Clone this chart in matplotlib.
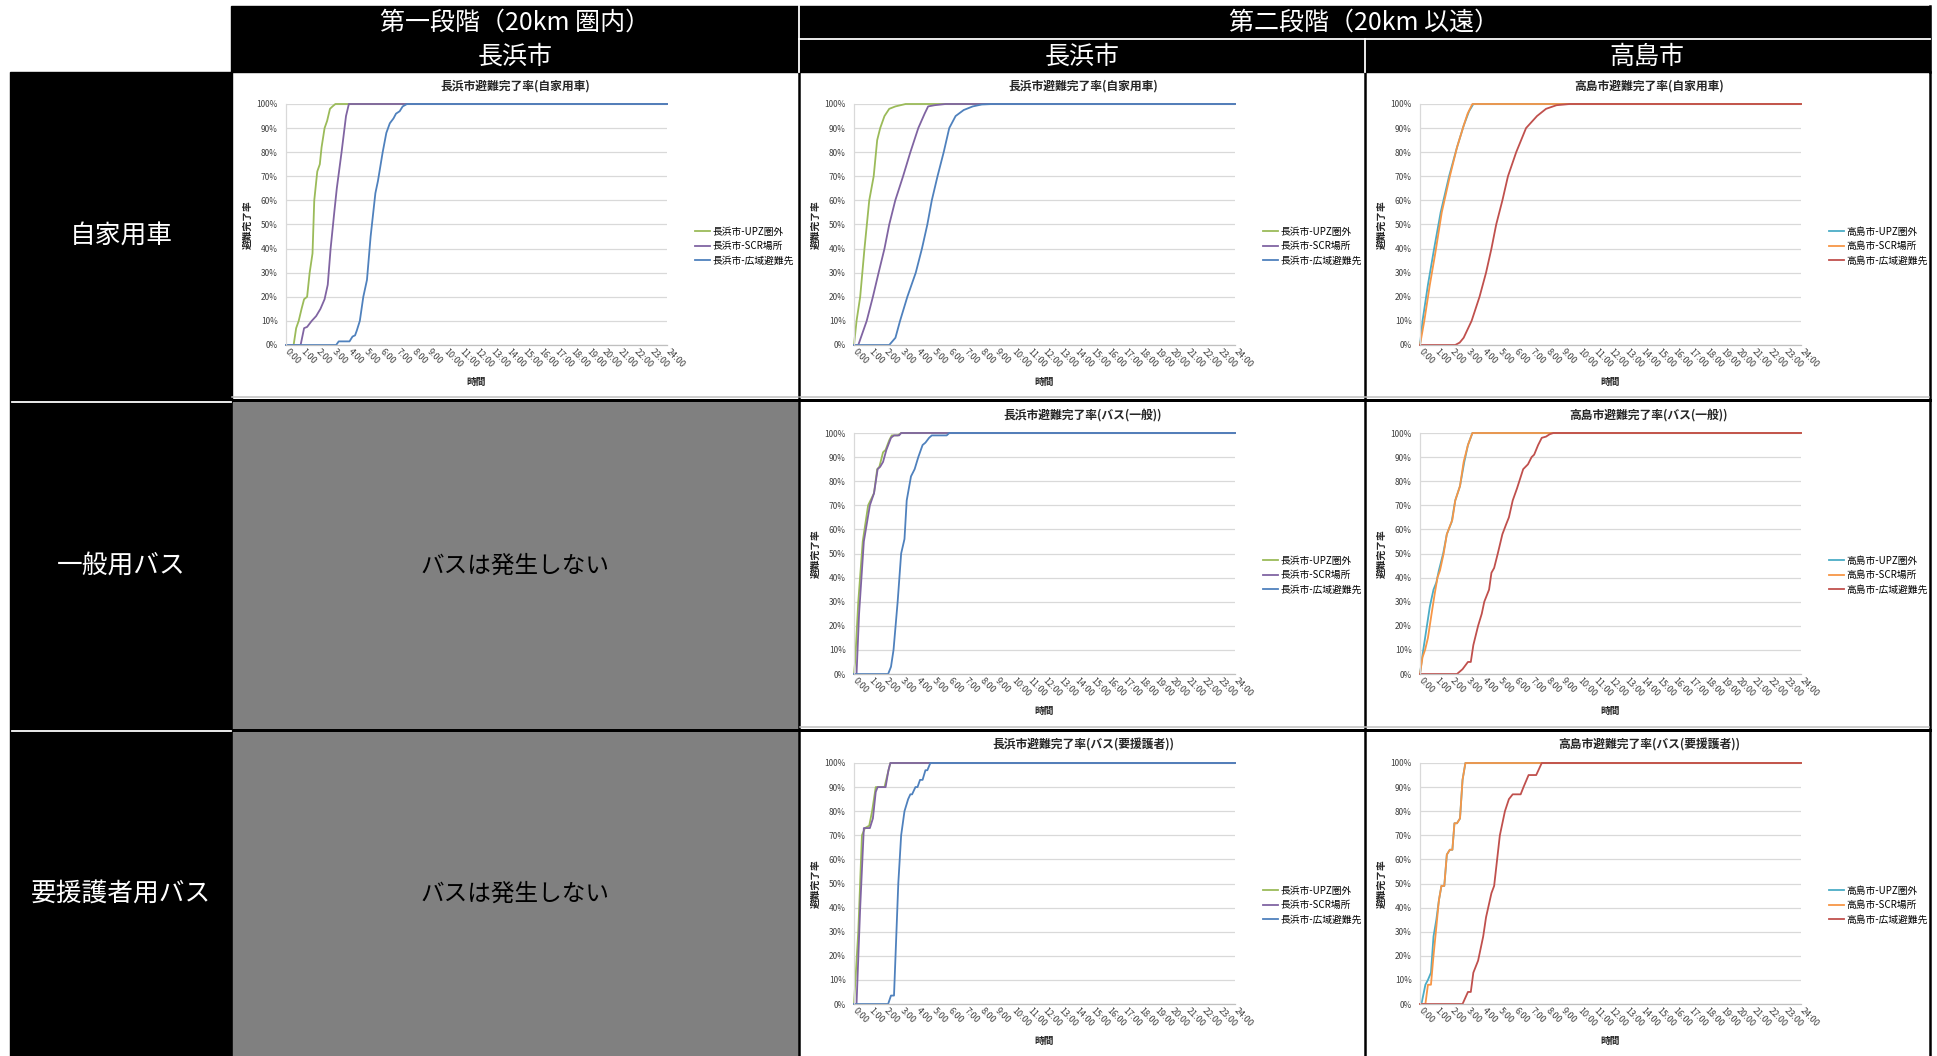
import matplotlib
matplotlib.use('Agg')
import matplotlib.pyplot as plt
from matplotlib.patches import Rectangle

plt.rcParams['font.family'] = ['Noto Sans CJK JP', 'DejaVu Sans']

# evacuation completion (hour, %) per series
# phase 1, Nagahama, private car
p1_car_upz = [(0, 0), (0.48, 0), (0.64, 7), (0.8, 10), (0.98, 15), (1.14, 19), (1.33, 20), (1.49, 30),
              (1.67, 38), (1.78, 60), (1.97, 72), (2.13, 75), (2.24, 82), (2.43, 90), (2.59, 93),
              (2.77, 98), (2.93, 99), (3.11, 100), (24, 100)]
p1_car_scr = [(0, 0), (0.92, 0), (1.14, 7), (1.33, 7.5), (1.62, 10), (1.9, 12), (2.17, 15), (2.43, 19),
              (2.63, 25), (2.81, 40), (3.04, 55), (3.2, 65), (3.5, 80), (3.78, 95), (3.96, 100), (24, 100)]
p1_car_wide = [(0, 0), (3.16, 0), (3.32, 1.5), (4.0, 1.5), (4.19, 3.5), (4.35, 4), (4.46, 6), (4.65, 10),
               (4.87, 20), (5.1, 27), (5.33, 45), (5.63, 63), (5.79, 68), (6.09, 80), (6.32, 88),
               (6.54, 92), (6.77, 94), (6.93, 96), (7.16, 97), (7.35, 99), (7.62, 100), (24, 100)]

# phase 2, Nagahama, private car
p2n_car_upz = [(0, 0), (0.16, 10), (0.39, 20), (0.66, 40), (0.96, 60), (1.24, 70), (1.46, 85), (1.65, 90),
               (1.92, 95), (2.22, 98), (2.61, 99), (3.25, 100), (24, 100)]
p2n_car_scr = [(0, 0), (0.27, 0), (0.8, 10), (1.19, 20), (1.55, 30), (1.92, 40), (2.22, 50), (2.6, 60),
               (3.09, 70), (3.55, 80), (4.05, 90), (4.45, 96), (4.67, 99), (5.08, 99.5), (5.77, 100), (24, 100)]
p2n_car_wide = [(0, 0), (2.22, 0), (2.61, 3), (2.9, 10), (3.36, 20), (3.89, 30), (4.28, 40), (4.62, 50),
                (4.9, 60), (5.26, 70), (5.65, 80), (6.0, 90), (6.4, 95), (6.91, 97.5), (7.48, 99),
                (8.05, 99.8), (8.74, 100), (24, 100)]

# phase 2, Takashima, private car
p2t_car_upz = [(0, 0), (0.16, 10), (0.5, 25), (0.89, 40), (1.3, 55), (1.83, 70), (2.33, 82), (2.75, 91),
               (3.09, 97), (3.36, 100), (24, 100)]
p2t_car_scr = [(0, 0), (0.27, 10), (0.62, 25), (0.96, 38), (1.37, 55), (1.88, 70), (2.33, 82), (2.75, 91),
               (3.0, 96), (3.3, 100), (24, 100)]
p2t_car_wide = [(0, 0), (2.22, 0), (2.5, 1), (2.75, 3), (3.25, 10), (3.75, 20), (4.16, 30), (4.5, 40),
                (4.8, 50), (5.19, 60), (5.54, 70), (6.06, 80), (6.68, 90), (7.37, 95), (7.94, 98),
                (8.6, 99.5), (9.43, 100), (24, 100)]

# phase 2, Nagahama, bus (general)
p2n_bus_upz = [(0, 0), (0.07, 5), (0.27, 30), (0.55, 55), (0.89, 70), (1.26, 75), (1.46, 85), (1.6, 86),
               (1.83, 92), (1.99, 93), (2.22, 97), (2.38, 99), (2.75, 99), (2.97, 100), (24, 100)]
p2n_bus_scr = [(0, 0), (0.16, 0), (0.32, 25), (0.62, 55), (1.0, 70), (1.26, 75), (1.49, 85), (1.65, 86),
               (1.83, 88), (2.04, 93), (2.33, 98), (2.52, 99), (2.84, 99), (2.97, 100), (24, 100)]
p2n_bus_wide = [(0, 0), (2.15, 0), (2.33, 3), (2.49, 10), (2.75, 30), (2.97, 50), (3.18, 56), (3.32, 72),
                (3.59, 82), (3.82, 85), (4.05, 90), (4.32, 95), (4.5, 96), (4.73, 98), (4.9, 99),
                (5.84, 99), (6.0, 100), (24, 100)]

# phase 2, Takashima, bus (general)
p2t_bus_upz = [(0, 0), (0.16, 8), (0.39, 18), (0.62, 28), (0.85, 35), (1.03, 38), (1.19, 43), (1.46, 50),
               (1.69, 58), (1.99, 63), (2.22, 72), (2.52, 78), (2.79, 88), (3.02, 95), (3.3, 100), (24, 100)]
p2t_bus_scr = [(0, 0), (0.16, 7), (0.32, 10), (0.5, 15), (0.73, 25), (0.92, 33), (1.1, 40), (1.26, 43),
               (1.49, 50), (1.69, 58), (1.92, 62), (2.04, 64), (2.22, 72), (2.52, 78), (2.75, 88),
               (3.02, 95), (3.3, 100), (24, 100)]
p2t_bus_wide = [(0, 0), (2.33, 0), (2.68, 2), (3.02, 5), (3.2, 5), (3.36, 12), (3.66, 20), (3.89, 25),
                (4.05, 30), (4.35, 35), (4.5, 42), (4.67, 44), (4.9, 50), (5.19, 58), (5.42, 62),
                (5.6, 65), (5.84, 72), (6.11, 77), (6.5, 85), (6.8, 87), (7.03, 90), (7.19, 91),
                (7.44, 95), (7.67, 98), (7.94, 98.5), (8.17, 99.5), (8.4, 100), (24, 100)]

# phase 2, Nagahama, bus (people needing support)
p2n_sup_upz = [(0, 0), (0.27, 30), (0.5, 70), (0.69, 73), (0.96, 74), (1.14, 80), (1.37, 90), (1.92, 90),
               (2.1, 95), (2.29, 100), (24, 100)]
p2n_sup_scr = [(0, 0), (0.16, 0), (0.39, 40), (0.62, 73), (1.0, 73), (1.19, 77), (1.37, 88), (1.49, 90),
               (1.99, 90), (2.17, 97), (2.29, 100), (24, 100)]
p2n_sup_wide = [(0, 0), (2.15, 0), (2.33, 3.5), (2.52, 3.5), (2.79, 50), (2.97, 70), (3.18, 80),
                (3.41, 85), (3.55, 87), (3.66, 87), (3.87, 90), (4.0, 90), (4.16, 93), (4.32, 93),
                (4.5, 97), (4.62, 97), (4.81, 100), (24, 100)]

# phase 2, Takashima, bus (people needing support)
p2t_sup_upz = [(0, 0), (0.09, 0), (0.34, 8), (0.5, 10), (0.69, 13), (0.85, 28), (1.03, 35), (1.19, 43),
               (1.35, 49), (1.53, 49), (1.69, 62), (1.88, 64), (2.04, 64), (2.17, 75), (2.33, 75),
               (2.52, 77), (2.68, 93), (2.86, 100), (24, 100)]
p2t_sup_scr = [(0, 0), (0.34, 0), (0.5, 8), (0.69, 8), (0.85, 20), (1.03, 32), (1.19, 43), (1.35, 49),
               (1.53, 49), (1.69, 62), (1.88, 64), (2.04, 64), (2.17, 75), (2.33, 75), (2.52, 77),
               (2.68, 93), (2.86, 100), (24, 100)]
p2t_sup_wide = [(0, 0), (2.68, 0), (3.02, 5), (3.2, 5), (3.36, 13), (3.66, 18), (3.98, 28), (4.16, 36),
                (4.5, 46), (4.67, 49), (5.03, 70), (5.35, 80), (5.6, 85), (5.84, 87), (6.34, 87),
                (6.52, 90), (6.84, 95), (7.32, 95), (7.67, 100), (24, 100)]

hour_ticks = list(range(25))
hour_labels = ['{}:00'.format(h) for h in hour_ticks]
pct_ticks = list(range(0, 101, 10))
pct_labels = ['{}%'.format(p) for p in pct_ticks]

suffixes = ['-UPZ圏外', '-SCR場所', '-広域避難先']
nag_colors = ['#9BBB59', '#8064A2', '#4F81BD']
tak_colors = ['#4BACC6', '#F79646', '#C0504D']

# (cell left, cell top, city, title kind, series)
charts = [
    (232, 72, '長浜市', '自家用車', [p1_car_upz, p1_car_scr, p1_car_wide]),
    (800, 72, '長浜市', '自家用車', [p2n_car_upz, p2n_car_scr, p2n_car_wide]),
    (1366, 72, '高島市', '自家用車', [p2t_car_upz, p2t_car_scr, p2t_car_wide]),
    (800, 401, '長浜市', 'バス(一般)', [p2n_bus_upz, p2n_bus_scr, p2n_bus_wide]),
    (1366, 401, '高島市', 'バス(一般)', [p2t_bus_upz, p2t_bus_scr, p2t_bus_wide]),
    (800, 731, '長浜市', 'バス(要援護者)', [p2n_sup_upz, p2n_sup_scr, p2n_sup_wide]),
    (1366, 731, '高島市', 'バス(要援護者)', [p2t_sup_upz, p2t_sup_scr, p2t_sup_wide]),
]

W, H = 1937, 1056
fig = plt.figure(figsize=(W / 100, H / 100), dpi=100)


def fx(x):
    return x / W


def fy(y):
    return 1 - y / H


def px(n):
    return n * 72 / 100


# table frame drawn in pixel coordinates
bg = fig.add_axes([0, 0, 1, 1])
bg.set_xlim(0, W)
bg.set_ylim(H, 0)
bg.axis('off')
bg.add_patch(Rectangle((231, 6), 1930 - 231, 66, color='black'))
bg.add_patch(Rectangle((10, 72), 222, H - 72, color='black'))
bg.add_patch(Rectangle((233, 402), 565, 327, color='#808080'))
bg.add_patch(Rectangle((233, 732), 565, H - 732, color='#808080'))
for x in (799, 1365, 1930):
    bg.plot([x, x], [72, H], color='black', lw=px(2.5))
bg.plot([232, 798], [397, 397], color='#BFBFBF', lw=px(1.5))
for y in (397, 727):
    bg.plot([800, 1929], [y, y], color='#BFBFBF', lw=px(1.5))
for y in (400, 730):
    bg.plot([232, 1930], [y, y], color='black', lw=px(3))
bg.plot([1930, 1930], [6, 72], color='black', lw=px(2.5))
bg.plot([799, 799], [6, 72], color='white', lw=px(1.8))
bg.plot([799, 1930], [39, 39], color='white', lw=px(1.8))
bg.plot([1365, 1365], [39, 72], color='white', lw=px(1.8))
for y in (401.5, 730.5):
    bg.plot([12, 231], [y, y], color='white', lw=px(1.8))

head_fs = 18
bg.text(515, 23, '第一段階（20km 圏内）', color='white', fontsize=head_fs, ha='center', va='center')
bg.text(515, 57, '長浜市', color='white', fontsize=head_fs, ha='center', va='center')
bg.text(1364, 23, '第二段階（20km 以遠）', color='white', fontsize=head_fs, ha='center', va='center')
bg.text(1082, 57, '長浜市', color='white', fontsize=head_fs, ha='center', va='center')
bg.text(1647, 57, '高島市', color='white', fontsize=head_fs, ha='center', va='center')

row_names = ['自家用車', '一般用バス', '要援護者用バス']
row_mid = [237, 566, 894]
for name, y in zip(row_names, row_mid):
    bg.text(121, y, name, color='white', fontsize=18.5, ha='center', va='center')
for y in row_mid[1:]:
    bg.text(515, y, 'バスは発生しない', color='black', fontsize=17, ha='center', va='center')

# the seven completion-rate charts
for cx, cy, city, kind, series in charts:
    left, right = cx + 54, cx + 435
    top, bottom = cy + 32, cy + 273
    ax = fig.add_axes([fx(left), fy(bottom), fx(right - left), (bottom - top) / H])
    cols = nag_colors if city == '長浜市' else tak_colors
    for pts, col, suf in zip(series, cols, suffixes):
        t = [p[0] for p in pts]
        v = [p[1] for p in pts]
        ax.plot(t, v, color=col, lw=1.3, label=city + suf, clip_on=False)
    ax.set_xlim(0, 24)
    ax.set_ylim(0, 100)
    ax.set_xticks(hour_ticks)
    ax.set_xticklabels(hour_labels, rotation=-45, ha='left', va='center', rotation_mode='anchor',
                       fontsize=6.5, color='#404040')
    ax.set_yticks(pct_ticks)
    ax.set_yticklabels(pct_labels, fontsize=6, color='#404040')
    ax.tick_params(axis='both', length=0, pad=6)
    ax.tick_params(axis='x', pad=4)
    ax.yaxis.grid(True, color='#D9D9D9', lw=0.9)
    ax.set_axisbelow(True)
    for s in ('top', 'right'):
        ax.spines[s].set_visible(False)
    ax.spines['left'].set_color('#D9D9D9')
    ax.spines['bottom'].set_color('#BFBFBF')
    ax.spines['left'].set_linewidth(0.9)
    ax.spines['bottom'].set_linewidth(0.9)

    bg.text(cx + 283, cy + 14, city + '避難完了率(' + kind + ')', fontsize=8.5, fontweight='bold',
            ha='center', va='center', color='#262626')
    bg.text(cx + 16, (top + bottom) / 2, '避難完了率', fontsize=7, fontweight='bold', rotation=90,
            ha='center', va='center', color='#262626')
    bg.text((left + right) / 2, cy + 310, '時間', fontsize=7, fontweight='bold',
            ha='center', va='center', color='#262626')
    ax.legend(loc='center left', bbox_to_anchor=(fx(cx + 463), fy(cy + 174)),
              bbox_transform=fig.transFigure, frameon=False, fontsize=7, handlelength=1.5,
              handletextpad=0.3, labelspacing=0.45, borderpad=0, borderaxespad=0)

fig.savefig('out.png', dpi=100)
